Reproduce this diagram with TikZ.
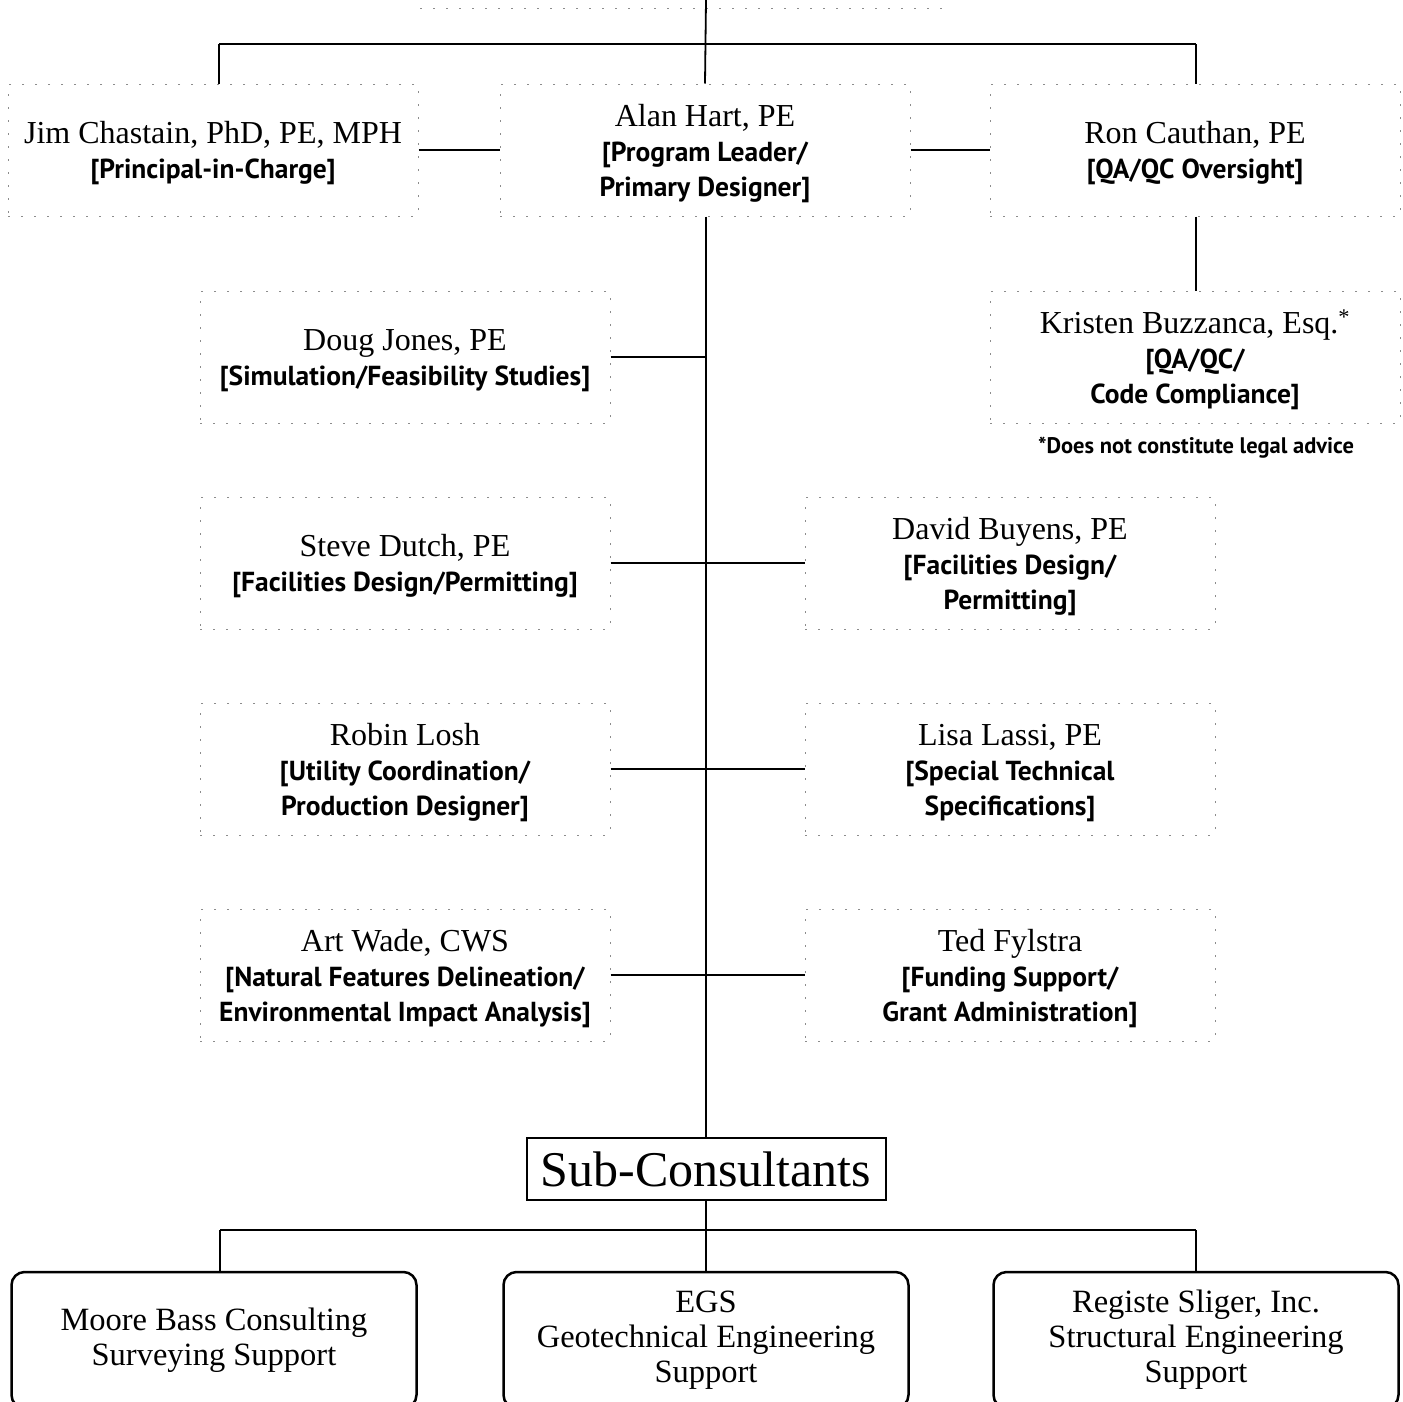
\documentclass[tikz,border=0pt]{standalone}
\usepackage{fontspec}
\newfontfamily\nmfont{Liberation Serif}
\newfontfamily\rlfont{PT Sans}
\newcommand\pname[1]{{\nmfont\fontsize{32}{35}\selectfont\rule{0pt}{29pt}#1}}
\newcommand\prole[1]{{\rlfont\bfseries\fontsize{27.5}{35}\selectfont #1}}
\begin{document}
\begin{tikzpicture}[x=1pt,y=-1pt,
  pbox/.style={draw=black!45, line width=1pt, dash pattern=on 2pt off 11pt,
    align=center, inner sep=0pt, minimum width=410pt, minimum height=132pt,
    font=\fontsize{27.5}{35}\selectfont},
  conn/.style={line width=1.8pt},
  subbox/.style={draw, line width=2pt, minimum width=359pt, minimum height=62pt,
    inner sep=0pt, font=\nmfont\fontsize{50}{56}\selectfont},
  cbox/.style={draw, line width=2.5pt, rounded corners=13pt, minimum width=405pt,
    minimum height=136pt, inner sep=0pt, align=center,
    font=\nmfont\fontsize{32.5}{35}\selectfont}]
\clip (0,0) rectangle (1403,1401);
\fill[white] (0,0) rectangle (1403,1401);

% faint remnant of a box above
\draw[draw=black!45, line width=1pt, dash pattern=on 2pt off 11pt] (420,8) -- (950,8);

% top row
\node[pbox] (jim) at (213,150) {\pname{Jim Chastain, PhD, PE, MPH}\\\prole{[Principal-in-Charge]}};
\node[pbox] (alan) at (705,150) {\pname{Alan Hart, PE}\\\prole{[Program Leader/}\\\prole{Primary Designer]}};
\node[pbox] (ron) at (1195,150) {\pname{Ron Cauthan, PE}\\\prole{[QA/QC Oversight]}};

\coordinate (top) at (706,0);
\coordinate (tl) at (219,44);
\coordinate (tr) at (1196,44);
\draw[conn] (tl) -- (tr);
\draw[conn] (top) -- (alan.north);
\draw[conn] (tl) -- (tl |- jim.north);
\draw[conn] (tr) -- (tr |- ron.north);
\draw[conn] (jim.east) -- (alan.west);
\draw[conn] (alan.east) -- (ron.west);

% QA/QC
\node[pbox] (kristen) at (1195,357) {\pname{Kristen Buzzanca, Esq.\textsuperscript{*}}\\\prole{[QA/QC/}\\\prole{Code Compliance]}};
\node[font=\rlfont\bfseries\fontsize{22.5}{26}\selectfont, inner sep=0pt] (note) at (1196,448) {*Does not constitute legal advice};
\draw[conn] (ron.south -| tr) -- (kristen.north -| tr);

% left column
\node[pbox] (doug) at (405,357) {\pname{Doug Jones, PE}\\\prole{[Simulation/Feasibility Studies]}};
\node[pbox] (steve) at (405,563) {\pname{Steve Dutch, PE}\\\prole{[Facilities Design/Permitting]}};
\node[pbox] (robin) at (405,769) {\pname{Robin Losh}\\\prole{[Utility Coordination/}\\\prole{Production Designer]}};
\node[pbox] (art) at (405,975) {\pname{Art Wade, CWS}\\\prole{[Natural Features Delineation/}\\\prole{Environmental Impact Analysis]}};

% right column
\node[pbox] (david) at (1010,563) {\pname{David Buyens, PE}\\\prole{[Facilities Design/}\\\prole{Permitting]}};
\node[pbox] (lisa) at (1010,769) {\pname{Lisa Lassi, PE}\\\prole{[Special Technical}\\\prole{Specifications]}};
\node[pbox] (ted) at (1010,975) {\pname{Ted Fylstra}\\\prole{[Funding Support/}\\\prole{Grant Administration]}};

% sub-consultants
\node[subbox] (sub) at (706,1169) {Sub-Consultants};

% trunk
\draw[conn] (alan.south -| top) -- (sub.north);
\draw[conn] (doug.east) -- (doug.east -| top);
\draw[conn] (steve.east) -- (david.west);
\draw[conn] (robin.east) -- (lisa.west);
\draw[conn] (art.east) -- (ted.west);

% consultants
\node[cbox] (moore) at (214,1340) {Moore Bass Consulting\\Surveying Support};
\node[cbox] (egs) at (706,1340) {EGS\\Geotechnical Engineering\\Support};
\node[cbox] (registe) at (1196,1340) {Registe Sliger, Inc.\\Structural Engineering\\Support};

\coordinate (bl) at (220,1230);
\coordinate (br) at (1196,1230);
\draw[conn] (bl) -- (br);
\draw[conn] (sub.south) -- (egs.north);
\draw[conn] (bl) -- (bl |- moore.north);
\draw[conn] (br) -- (br |- registe.north);
\end{tikzpicture}
\end{document}
